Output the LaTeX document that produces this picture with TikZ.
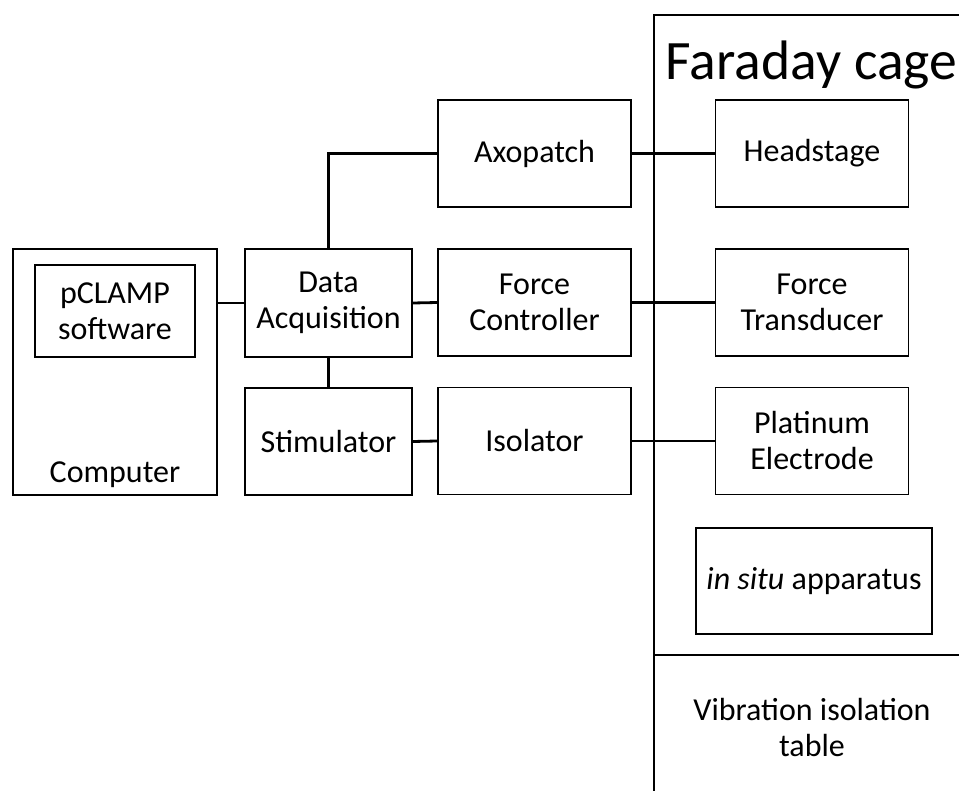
\documentclass[tikz,border=0pt]{standalone}
\usepackage{fontspec}
\setmainfont{Carlito}
\usepackage{tikz}

\begin{document}
\begin{tikzpicture}[x=0.5pt,y=-0.5pt,
    font=\fontsize{16}{18}\selectfont,
    unit/.style={draw,line width=0.8pt,align=center,inner sep=0pt,
                 minimum width=96.5pt,minimum height=53.5pt},
    daqbox/.style={unit,minimum width=83.5pt,minimum height=54pt},
    wire/.style={line width=1.4pt}]
                \useasboundingbox (0,0) rectangle (959,791);
                % Faraday cage and table
                \draw[line width=0.8pt] (959,15)--(654,15)--(654,791);
                \draw[line width=0.8pt] (654,655)--(959,655);
                \node[font=\fontsize{27.8}{33}\selectfont,anchor=base] (cage) at (811.5,80) {Faraday cage};
                \node[align=center] (table) at (812,728) {Vibration isolation\\table};
                % computer
                \node[unit,minimum width=102pt,minimum height=123pt] (comp) at (115,372) {};
                \node[unit,minimum width=80pt,minimum height=46pt] (pclamp) at (115,311) {pCLAMP\\software};
                \node (complabel) at (115,475) {Computer};
                % rack
                \node[daqbox] (daq) at (328.5,303) {Data\\Acquisition};
                \node[daqbox,minimum height=53.5pt] (stim) at (328.5,441.5) {Stimulator};
                \node[unit] (axo) at (534.5,153.5) {Axopatch};
                \node[unit] (force) at (534.5,302.5) {Force\\Controller};
                \node[unit] (iso) at (534.5,441) {Isolator};
                % inside the cage
                \node[unit] (head) at (812,153.5) {Headstage};
                \node[unit] (trans) at (812,302.5) {Force\\Transducer};
                \node[unit] (elec) at (812,441) {Platinum\\Electrode};
                \node[unit,minimum width=118pt,minimum height=53pt] (situ) at (814,581) {\textit{in situ} apparatus};
                % wiring
                \draw[wire] (daq.west)--(daq.west -| comp.east);
                \draw[wire] (daq.north) |- (axo.west);
                \draw[wire] (daq.east)--(force.west);
                \draw[wire] (daq.south)--(stim.north);
                \draw[wire] (stim.east)--(iso.west);
                \draw[wire] (axo.east)--(head.west);
                \draw[wire] (force.east)--(trans.west);
                \draw[wire] (iso.east)--(elec.west);
            \end{tikzpicture}
\end{document}
